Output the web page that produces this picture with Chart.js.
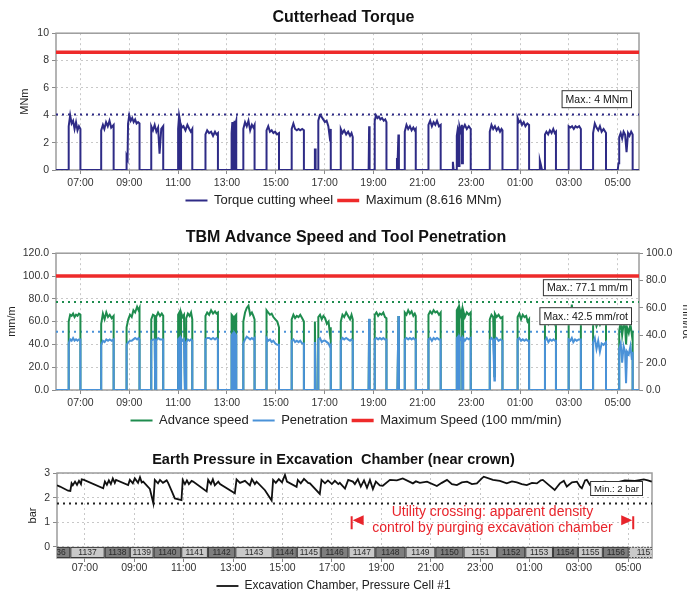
<!DOCTYPE html>
<html>
<head>
<meta charset="utf-8">
<script src="https://cdn.jsdelivr.net/npm/chart.js@4.4.1/dist/chart.umd.min.js"></script>
<style>
  html, body { margin: 0; padding: 0; background: #fff; overflow: hidden; width: 687px; height: 593px; }
  .panel { position: absolute; }
</style>
</head>
<body>
<div class="panel" style="left:0;top:0;width:687px;height:217px"><canvas id="torqueChart" width="687" height="217"></canvas></div>
<div class="panel" style="left:-8px;top:220px;width:708px;height:217px"><canvas id="speedChart" width="708" height="217"></canvas></div>
<div class="panel" style="left:-20px;top:440px;width:707px;height:162px"><canvas id="pressureChart" width="707" height="162"></canvas></div>
<script>
// time axis (hours, 25 = 01:00 next day)
const hourTicks = [7, 9, 11, 13, 15, 17, 19, 21, 23, 25, 27, 29];
const hourLabels = ['07:00', '09:00', '11:00', '13:00', '15:00', '17:00', '19:00', '21:00', '23:00', '01:00', '03:00', '05:00'];

// cutterhead torque [hour, MNm]
const torquePoints = [
  [6.00, 0],
  [6.52, 0], [6.52, 3.2], [6.58, 4.0], [6.64, 3.4], [6.70, 3.6], [6.76, 3.0], [6.82, 3.5], [6.88, 2.9], [6.94, 3.2], [7.00, 3.0], [7.00, 0],
  [7.85, 0], [7.85, 2.9], [7.92, 3.3], [7.98, 3.0], [8.05, 3.5], [8.12, 3.2], [8.19, 3.6], [8.26, 3.1], [8.36, 3.3], [8.36, 0],
  [8.89, 0], [8.89, 1.0], [8.93, 0.8], [8.95, 3.4], [9.00, 4.0], [9.06, 3.6], [9.12, 3.8], [9.18, 3.5], [9.24, 3.7], [9.30, 3.4], [9.36, 3.5], [9.42, 3.4], [9.42, 0],
  [9.90, 0], [9.90, 3.2], [9.97, 2.9], [10.04, 3.3], [10.11, 2.8], [10.18, 3.1], [10.24, 1.2], [10.31, 3.0], [10.39, 3.2], [10.39, 0],
  [11.00, 0], [11.00, 3.0], [11.04, 4.0], [11.08, 3.6], [11.08, 0], [11.12, 0], [11.12, 3.3], [11.16, 3.1], [11.22, 3.2], [11.30, 2.9], [11.38, 3.3], [11.46, 3.0], [11.52, 2.8], [11.58, 3.0], [11.58, 0],
  [12.12, 0], [12.12, 2.6], [12.19, 2.9], [12.27, 2.7], [12.35, 2.8], [12.43, 2.5], [12.51, 2.8], [12.57, 2.6], [12.63, 2.7], [12.63, 0],
  [13.19, 0], [13.19, 2.7], [13.22, 3.5], [13.24, 2.8], [13.24, 0], [13.31, 0], [13.31, 3.6], [13.34, 3.3], [13.38, 3.6], [13.38, 0],
  [13.67, 0], [13.67, 3.0], [13.74, 3.5], [13.81, 3.2], [13.88, 3.6], [13.95, 2.9], [14.02, 3.3], [14.08, 3.1], [14.13, 3.3], [14.13, 0],
  [14.62, 0], [14.62, 2.9], [14.69, 3.2], [14.76, 2.8], [14.83, 2.9], [14.90, 2.7], [14.97, 2.8], [15.05, 2.6], [15.13, 2.7], [15.13, 0],
  [15.65, 0], [15.65, 3.0], [15.72, 3.4], [15.79, 3.0], [15.86, 2.9], [15.93, 3.0], [16.00, 2.9], [16.08, 3.0], [16.15, 2.9], [16.15, 0],
  [16.60, 0], [16.60, 1.5], [16.63, 1.5], [16.63, 0], [16.74, 0], [16.74, 3.6], [16.80, 4.0], [16.87, 3.9], [16.94, 3.7], [17.01, 3.5], [17.08, 3.6], [17.15, 3.2], [17.20, 2.5], [17.25, 3.0], [17.25, 0],
  [17.66, 0], [17.66, 3.0], [17.73, 2.7], [17.80, 2.9], [17.88, 2.6], [17.96, 2.8], [18.04, 2.5], [18.10, 2.7], [18.15, 2.4], [18.15, 0],
  [18.80, 0], [18.82, 3.2], [18.84, 0],
  [19.05, 0], [19.05, 3.6], [19.10, 4.0], [19.16, 3.8], [19.22, 3.9], [19.28, 3.7], [19.35, 3.8], [19.42, 3.6], [19.48, 3.7], [19.53, 3.5], [19.53, 0],
  [19.96, 0], [19.96, 0.8], [19.99, 0.8], [20.02, 2.6], [20.04, 0],
  [20.28, 0], [20.28, 2.8], [20.35, 3.3], [20.42, 3.0], [20.49, 3.2], [20.56, 2.9], [20.63, 3.1], [20.69, 2.9], [20.73, 3.0], [20.73, 0],
  [21.25, 0], [21.25, 3.3], [21.32, 3.6], [21.39, 3.2], [21.46, 3.5], [21.53, 3.3], [21.60, 3.6], [21.68, 3.2], [21.75, 3.3], [21.75, 0],
  [22.22, 0], [22.25, 0.6], [22.28, 0],
  [22.41, 0], [22.41, 2.5], [22.45, 3.0], [22.48, 2.8], [22.48, 0.3], [22.52, 0.3], [22.52, 3.2], [22.58, 2.8], [22.62, 3.3], [22.62, 0.5], [22.66, 0.5], [22.66, 3.0], [22.74, 3.3], [22.82, 3.0], [22.90, 3.2], [22.98, 3.0], [22.98, 0],
  [23.76, 0], [23.76, 2.8], [23.83, 3.3], [23.90, 3.0], [23.97, 3.2], [24.04, 2.9], [24.11, 3.1], [24.18, 2.8], [24.24, 3.0], [24.28, 2.9], [24.28, 0],
  [24.90, 0], [24.90, 3.8], [24.96, 3.5], [25.02, 3.6], [25.08, 3.3], [25.15, 3.5], [25.22, 3.2], [25.30, 3.4], [25.37, 3.3], [25.37, 0],
  [25.78, 0], [25.81, 0.7], [25.85, 0.4], [25.90, 0],
  [26.02, 0], [26.02, 2.6], [26.08, 2.8], [26.15, 2.6], [26.22, 2.9], [26.29, 2.7], [26.36, 3.0], [26.42, 2.7], [26.47, 2.8], [26.47, 0],
  [26.99, 0], [26.99, 3.2], [27.06, 3.1], [27.13, 3.2], [27.20, 3.0], [27.27, 3.2], [27.34, 3.1], [27.42, 3.2], [27.49, 3.0], [27.49, 0],
  [27.99, 0], [27.99, 2.7], [28.06, 3.4], [28.13, 3.1], [28.20, 2.9], [28.27, 3.2], [28.34, 2.8], [28.42, 3.0], [28.52, 2.7], [28.52, 0],
  [29.00, 0], [29.03, 0.5], [29.06, 0.5], [29.06, 2.4], [29.12, 2.7], [29.18, 2.3], [29.24, 2.8], [29.30, 2.6], [29.36, 1.3], [29.42, 2.7], [29.48, 2.5], [29.55, 2.8], [29.61, 2.6], [29.61, 0],
  [29.87, 0]
];
const torqueLimit = 8.616;
const torqueMaxSeen = 4.05;

// [hour, advance speed mm/m, penetration mm/rot]
const speedRows = [
  [6.00, 0, 0],
  [6.52, 0, 0], [6.52, 60, 34], [6.58, 66, 37], [6.64, 65, 36], [6.70, 67, 38], [6.76, 64, 36], [6.82, 66, 37], [6.88, 65, 36], [6.94, 67, 37], [7.00, 66, 37], [7.00, 0, 0],
  [7.85, 0, 0], [7.85, 58, 33], [7.92, 67, 36], [7.99, 62, 35], [8.06, 68, 37], [8.13, 64, 36], [8.20, 66, 37], [8.28, 63, 36], [8.36, 65, 37], [8.36, 0, 0],
  [8.89, 0, 0], [8.89, 55, 33], [8.96, 62, 35], [9.03, 66, 36], [9.10, 64, 36], [9.17, 70, 37], [9.24, 68, 38], [9.32, 73, 37], [9.38, 70, 38], [9.42, 72, 37], [9.42, 0, 0],
  [9.90, 0, 0], [9.90, 62, 36], [9.97, 66, 37], [10.04, 65, 37], [10.06, 0, 0], [10.10, 0, 0], [10.10, 64, 36], [10.18, 68, 38], [10.26, 65, 37], [10.33, 67, 37], [10.39, 65, 37], [10.39, 0, 0],
  [11.00, 0, 0], [11.00, 66, 37], [11.05, 68, 38], [11.08, 0, 0], [11.12, 0, 0], [11.12, 68, 38], [11.18, 64, 36], [11.24, 66, 37], [11.28, 0, 0], [11.33, 0, 0], [11.33, 63, 35], [11.40, 67, 37], [11.47, 65, 36], [11.53, 68, 37], [11.58, 62, 36], [11.58, 0, 0],
  [12.12, 0, 0], [12.12, 65, 37], [12.19, 68, 38], [12.27, 66, 38], [12.35, 70, 37], [12.43, 67, 38], [12.51, 69, 37], [12.57, 67, 38], [12.63, 68, 37], [12.63, 0, 0],
  [13.19, 0, 0], [13.19, 66, 40], [13.23, 65, 41], [13.24, 0, 0], [13.30, 0, 0], [13.30, 64, 42], [13.38, 66, 40], [13.38, 0, 0],
  [13.67, 0, 0], [13.67, 60, 34], [13.74, 68, 37], [13.81, 72, 39], [13.88, 74, 38], [13.95, 66, 37], [14.02, 68, 38], [14.08, 65, 37], [14.13, 62, 38], [14.13, 0, 0],
  [14.62, 0, 0], [14.62, 70, 38], [14.69, 68, 36], [14.76, 66, 37], [14.83, 67, 35], [14.90, 64, 36], [14.98, 62, 34], [15.06, 60, 33], [15.13, 55, 33], [15.13, 0, 0],
  [15.65, 0, 0], [15.65, 62, 36], [15.72, 66, 37], [15.79, 63, 35], [15.86, 65, 36], [15.93, 64, 35], [16.00, 66, 36], [16.08, 63, 34], [16.15, 60, 34], [16.15, 0, 0],
  [16.60, 0, 0], [16.60, 60, 35], [16.63, 0, 0], [16.74, 0, 0], [16.74, 64, 37], [16.81, 66, 38], [16.88, 62, 35], [16.95, 65, 36], [17.02, 63, 36], [17.09, 58, 35], [17.16, 60, 34], [17.21, 50, 32], [17.25, 55, 33], [17.25, 0, 0],
  [17.66, 0, 0], [17.66, 60, 36], [17.73, 66, 38], [17.80, 64, 37], [17.88, 68, 38], [17.96, 65, 37], [18.04, 62, 36], [18.10, 66, 37], [18.15, 62, 36], [18.15, 0, 0],
  [18.80, 0, 0], [18.82, 62, 52], [18.84, 0, 0],
  [19.05, 0, 0], [19.05, 66, 37], [19.12, 68, 38], [19.19, 65, 37], [19.26, 67, 38], [19.33, 66, 37], [19.40, 68, 38], [19.47, 64, 37], [19.53, 63, 37], [19.53, 0, 0],
  [19.98, 0, 0], [20.02, 65, 54], [20.04, 0, 0],
  [20.28, 0, 0], [20.28, 68, 37], [20.35, 66, 38], [20.42, 70, 37], [20.49, 67, 38], [20.56, 69, 37], [20.63, 65, 38], [20.69, 67, 37], [20.73, 65, 37], [20.73, 0, 0],
  [21.25, 0, 0], [21.25, 66, 37], [21.32, 69, 38], [21.39, 67, 36], [21.46, 70, 38], [21.53, 68, 37], [21.60, 69, 38], [21.68, 66, 37], [21.75, 68, 37], [21.75, 0, 0],
  [22.41, 0, 0], [22.41, 70, 38], [22.46, 72, 39], [22.49, 0, 0], [22.52, 0, 0], [22.52, 72, 39], [22.58, 66, 37], [22.62, 70, 38], [22.64, 0, 0], [22.67, 0, 0], [22.67, 70, 38], [22.74, 64, 36], [22.82, 68, 38], [22.90, 66, 37], [22.98, 68, 38], [22.98, 0, 0],
  [23.76, 0, 0], [23.76, 62, 36], [23.83, 66, 38], [23.90, 64, 37], [23.95, 12, 7], [23.97, 67, 37], [24.04, 64, 38], [24.12, 66, 36], [24.20, 63, 37], [24.28, 64, 36], [24.28, 0, 0],
  [24.90, 0, 0], [24.90, 64, 37], [24.97, 67, 38], [25.04, 62, 36], [25.11, 66, 37], [25.18, 64, 36], [25.25, 65, 37], [25.31, 60, 36], [25.37, 62, 36], [25.37, 0, 0],
  [26.02, 0, 0], [26.02, 60, 36], [26.09, 62, 38], [26.16, 58, 35], [26.23, 61, 37], [26.30, 59, 36], [26.37, 62, 37], [26.43, 58, 36], [26.47, 60, 36], [26.47, 0, 0],
  [26.99, 0, 0], [26.99, 62, 37], [27.06, 60, 36], [27.12, 75, 38], [27.18, 62, 35], [27.25, 64, 37], [27.32, 61, 36], [27.40, 63, 37], [27.49, 62, 37], [27.49, 0, 0],
  [27.99, 0, 0], [27.99, 58, 35], [28.06, 62, 38], [28.13, 56, 30], [28.20, 60, 36], [28.27, 57, 28], [28.34, 60, 34], [28.42, 58, 33], [28.52, 60, 35], [28.52, 0, 0],
  [29.06, 0, 0], [29.06, 52, 30], [29.12, 60, 34], [29.18, 48, 20], [29.24, 58, 32], [29.30, 56, 28], [29.34, 40, 5], [29.38, 55, 28], [29.45, 50, 26], [29.52, 58, 32], [29.58, 48, 22], [29.61, 52, 28], [29.61, 0, 0],
  [29.87, 0, 0]
];
const speedLimit = 100;
const advanceMaxSeen = 77.1;
const penetrationMaxSeen = 42.5;

// earth pressure, cell #1 [hour, bar]
const pressurePoints = [
  [5.87, 2.50], [5.99, 2.45], [6.32, 2.28], [6.41, 2.27],
  [6.46, 2.58], [6.51, 2.50], [6.60, 2.65], [6.68, 2.52], [6.76, 2.68], [6.84, 2.55], [6.87, 2.74],
  [6.96, 2.72], [7.74, 2.38],
  [7.81, 2.65], [7.89, 2.52], [7.97, 2.70], [8.05, 2.55], [8.13, 2.78], [8.21, 2.60],
  [8.26, 2.72], [8.75, 2.51],
  [8.82, 2.72], [8.94, 2.58], [9.02, 2.78], [9.15, 2.60], [9.23, 2.83], [9.30, 2.62],
  [9.36, 2.65], [9.63, 2.35], [9.77, 1.77],
  [9.83, 2.72], [9.96, 2.58], [10.04, 2.72], [10.16, 2.60], [10.31, 2.70],
  [10.37, 2.60], [10.52, 2.25], [10.64, 1.97], [10.91, 1.90],
  [10.96, 2.72], [11.05, 2.55], [11.13, 2.70], [11.21, 2.55], [11.32, 2.68],
  [11.38, 2.65], [11.93, 2.25],
  [11.99, 2.72], [12.10, 2.55], [12.18, 2.74], [12.26, 2.50], [12.40, 2.65],
  [12.47, 2.55], [13.07, 2.18],
  [13.14, 2.74], [13.28, 2.60], [13.48, 2.68], [13.68, 2.50], [13.76, 2.75], [13.88, 2.55],
  [13.95, 2.65], [14.29, 2.30], [14.56, 1.88],
  [14.62, 2.72], [14.73, 2.60], [14.85, 2.75], [14.98, 2.62], [15.10, 2.92],
  [15.18, 2.65], [15.57, 2.44],
  [15.62, 2.72], [15.74, 2.58], [15.87, 2.76], [16.04, 2.60],
  [16.11, 2.58], [16.51, 2.15],
  [16.58, 2.72], [16.72, 2.58], [16.84, 2.70], [17.00, 2.55], [17.12, 2.68], [17.26, 2.55],
  [17.32, 2.60], [17.53, 2.37], [17.66, 2.72], [17.85, 2.65],
  [17.93, 2.55], [18.05, 2.75], [18.17, 2.45], [18.30, 2.70], [18.42, 2.40], [18.54, 2.72], [18.66, 2.35], [18.78, 2.65], [18.94, 2.50], [19.06, 2.48],
  [19.35, 2.72], [19.63, 2.70], [19.87, 2.78], [20.28, 2.58], [20.40, 2.66], [20.56, 2.60], [20.85, 2.65], [21.25, 2.47],
  [21.45, 2.60], [21.66, 2.72], [21.86, 2.55], [22.06, 2.51], [22.26, 2.62], [22.47, 2.65], [22.67, 2.55], [22.87, 2.58],
  [23.07, 2.78], [23.15, 2.85], [23.52, 2.72], [23.80, 2.68], [24.08, 2.58], [24.29, 2.66], [24.49, 2.62], [24.69, 2.55],
  [24.89, 2.51], [25.10, 2.60], [25.30, 2.58], [25.46, 2.70], [25.54, 2.72], [25.74, 2.55], [26.02, 2.31], [26.23, 2.58],
  [26.39, 2.68], [26.51, 2.45], [26.72, 2.62], [26.92, 2.65], [27.04, 2.45], [27.12, 2.38], [27.25, 2.70], [27.32, 2.72],
  [27.45, 2.51], [27.65, 2.60], [28.05, 2.65], [28.46, 2.60], [28.86, 2.70], [29.27, 2.68], [29.63, 2.74], [29.79, 2.70], [29.95, 2.65]
];
const pressureMinLine = 1.76;

// ring numbers and their boundaries (hours)
const ringNumbers = [1136, 1137, 1138, 1139, 1140, 1141, 1142, 1143, 1144, 1145, 1146, 1147, 1148, 1149, 1150, 1151, 1152, 1153, 1154, 1155, 1156, 1157];
const ringBounds = [5.30, 6.41, 7.80, 8.82, 9.78, 10.90, 11.98, 13.09, 14.60, 15.58, 16.55, 17.67, 18.76, 19.98, 21.19, 22.33, 23.69, 24.83, 25.95, 26.96, 27.97, 29.02, 30.40];
const crossingStart = 17.8;
const crossingEnd = 29.2;

const FONT = "'Liberation Sans', Arial, Helvetica, sans-serif";
Chart.defaults.font.family = FONT;
Chart.defaults.color = '#222';
Chart.defaults.animation = false;
Chart.defaults.events = [];

const xy = (rows, col) => rows.map(r => ({ x: r[0], y: r[col] }));
const flat = (x0, x1, v) => [{ x: x0, y: v }, { x: x1, y: v }];

const gridOpts = { color: '#c8c8c8', lineWidth: 1, tickLength: 4, tickColor: '#8a8a8a', tickBorderDash: [] };
const borderOpts = { display: false, dash: [2, 3] };

function hourAxis(min, max, pad, h) {
  return {
    type: 'linear', min, max,
    afterBuildTicks: s => { s.ticks = hourTicks.map(v => ({ value: v })); },
    afterFit: s => { s.height = h; },
    ticks: { callback: v => hourLabels[hourTicks.indexOf(v)], font: { size: 10.5 }, color: '#333', padding: pad, maxRotation: 0, autoSkip: false },
    grid: gridOpts,
    border: borderOpts
  };
}

// empty right-hand axis that only reserves space, so title and legend stay centred on the page
function spacerAxis(w) {
  return {
    position: 'right', display: true,
    afterFit: s => { s.width = w; },
    ticks: { display: false },
    grid: { display: false },
    border: { display: false }
  };
}

function legendOpts(size) {
  return {
    position: 'bottom',
    labels: {
      usePointStyle: true, pointStyle: 'line', pointStyleWidth: 22,
      font: { size }, color: '#222', padding: 4,
      filter: (item, data) => !data.datasets[item.datasetIndex].hideLegend,
      sort: (a, b) => a.datasetIndex - b.datasetIndex
    }
  };
}

const framePlugin = {
  id: 'frame',
  beforeDatasetsDraw(chart) {
    const { ctx, chartArea: a } = chart;
    ctx.save();
    ctx.strokeStyle = '#9c9c9c';
    ctx.lineWidth = 1.5;
    ctx.strokeRect(a.left, a.top, a.right - a.left, a.bottom - a.top);
    ctx.restore();
  }
};

function noteBox(ctx, text, right, top, h, size) {
  ctx.save();
  ctx.font = size + 'px ' + FONT;
  const w = ctx.measureText(text).width + 8;
  ctx.fillStyle = '#fff';
  ctx.fillRect(right - w, top, w, h);
  ctx.strokeStyle = '#333';
  ctx.lineWidth = 1;
  ctx.strokeRect(right - w + 0.5, top + 0.5, w - 1, h - 1);
  ctx.fillStyle = '#111';
  ctx.textAlign = 'center';
  ctx.textBaseline = 'middle';
  ctx.fillText(text, right - w / 2, top + h / 2 + 0.5);
  ctx.restore();
}

// Cutterhead torque
new Chart(document.getElementById('torqueChart'), {
  type: 'line',
  data: {
    datasets: [
      { label: 'Torque cutting wheel', data: xy(torquePoints, 1), borderColor: '#2e2b86', borderWidth: 2, order: 2 },
      { label: 'Maximum (8.616 MNm)', data: flat(6.0, 29.87, torqueLimit), borderColor: '#ee2a2a', borderWidth: 3.5, order: 1 },
      { label: 'max', data: flat(6.0, 29.87, torqueMaxSeen), borderColor: '#2e2b86', borderWidth: 2, borderDash: [2, 4], hideLegend: true, order: 3 }
    ]
  },
  options: {
    responsive: false,
    layout: { padding: 0 },
    elements: { point: { radius: 0 }, line: { tension: 0 } },
    plugins: {
      title: { display: true, text: 'Cutterhead Torque', font: { size: 16, weight: 'bold' }, color: '#111', padding: { top: 8, bottom: 6 } },
      legend: legendOpts(13),
      tooltip: { enabled: false }
    },
    scales: {
      x: hourAxis(6.0, 29.87, 3, 20),
      y: {
        min: 0, max: 10,
        afterFit: s => { s.width = 56; },
        ticks: { stepSize: 2, font: { size: 10.5 }, color: '#333', padding: 3 },
        grid: gridOpts, border: borderOpts,
        title: { display: true, text: 'MNm', font: { size: 11 }, color: '#222', padding: { top: 18, bottom: 0 } }
      },
      pad: spacerAxis(48)
    }
  },
  plugins: [framePlugin, {
    id: 'notes',
    afterDatasetsDraw(chart) {
      const a = chart.chartArea;
      noteBox(chart.ctx, 'Max.: 4 MNm', a.right - 7, a.top + 57, 18, 10.5);
    }
  }]
});

// Advance speed and penetration
new Chart(document.getElementById('speedChart'), {
  type: 'line',
  data: {
    datasets: [
      { label: 'Advance speed', data: xy(speedRows, 1), borderColor: '#1e8c4e', borderWidth: 2, yAxisID: 'y', order: 3 },
      { label: 'Penetration', data: xy(speedRows, 2), borderColor: '#4a92d8', borderWidth: 2, yAxisID: 'y1', order: 2 },
      { label: 'Maximum Speed (100 mm/min)', data: flat(6.0, 29.87, speedLimit), borderColor: '#ee2a2a', borderWidth: 3.5, yAxisID: 'y', order: 1 },
      { label: 'adv max', data: flat(6.0, 29.87, advanceMaxSeen), borderColor: '#1e8c4e', borderWidth: 2, borderDash: [2, 4], yAxisID: 'y', hideLegend: true, order: 4 },
      { label: 'pen max', data: flat(6.0, 29.87, penetrationMaxSeen), borderColor: '#4a92d8', borderWidth: 2, borderDash: [2, 4], yAxisID: 'y1', hideLegend: true, order: 4 }
    ]
  },
  options: {
    responsive: false,
    layout: { padding: 0 },
    elements: { point: { radius: 0 }, line: { tension: 0 } },
    plugins: {
      title: { display: true, text: 'TBM Advance Speed and Tool Penetration', font: { size: 16, weight: 'bold' }, color: '#111', padding: { top: 8, bottom: 6 } },
      legend: legendOpts(13),
      tooltip: { enabled: false }
    },
    scales: {
      x: hourAxis(6.0, 29.87, 3, 20),
      y: {
        position: 'left', min: 0, max: 120,
        afterFit: s => { s.width = 64; },
        ticks: { stepSize: 20, callback: v => v.toFixed(1), font: { size: 10.5 }, color: '#333', padding: 3 },
        grid: gridOpts, border: borderOpts,
        title: { display: true, text: 'mm/m', font: { size: 11 }, color: '#222', padding: { top: 13, bottom: 0 } }
      },
      y1: {
        position: 'right', min: 0, max: 100,
        afterFit: s => { s.width = 61; },
        ticks: { stepSize: 20, callback: v => v.toFixed(1), font: { size: 10.5 }, color: '#333', padding: 3 },
        grid: { drawOnChartArea: false, tickLength: 4, tickColor: '#8a8a8a', tickBorderDash: [] },
        border: { display: false },
        title: { display: true, text: 'mm/rot', font: { size: 11 }, color: '#222', padding: { top: 7, bottom: 0 } }
      }
    }
  },
  plugins: [framePlugin, {
    id: 'notes',
    afterDatasetsDraw(chart) {
      const a = chart.chartArea;
      noteBox(chart.ctx, 'Max.: 77.1 mm/m', a.right - 7, a.top + 26, 17, 10.5);
      noteBox(chart.ctx, 'Max.: 42.5 mm/rot', a.right - 7, a.top + 54, 18, 10.5);
    }
  }]
});

// Earth pressure
new Chart(document.getElementById('pressureChart'), {
  type: 'line',
  data: {
    datasets: [
      { label: 'Excavation Chamber, Pressure Cell #1', data: xy(pressurePoints, 1), borderColor: '#111', borderWidth: 1.8, order: 1 },
      { label: 'min', data: flat(5.87, 29.96, pressureMinLine), borderColor: '#222', borderWidth: 2, borderDash: [2, 4], hideLegend: true, order: 2 }
    ]
  },
  options: {
    responsive: false,
    layout: { padding: 0 },
    elements: { point: { radius: 0 }, line: { tension: 0 } },
    plugins: {
      title: { display: true, text: 'Earth Pressure in Excavation  Chamber (near crown)', font: { size: 14.5, weight: 'bold' }, color: '#111', padding: { top: 11, bottom: 4.6 } },
      legend: legendOpts(12),
      tooltip: { enabled: false }
    },
    scales: {
      x: hourAxis(5.87, 29.96, 0, 18),
      y: {
        min: -0.45, max: 3,
        afterBuildTicks: s => { s.ticks = [0, 1, 2, 3].map(v => ({ value: v })); },
        afterFit: s => { s.width = 77; },
        ticks: { font: { size: 10.5 }, color: '#333', padding: 3 },
        grid: gridOpts, border: borderOpts,
        title: { display: true, text: 'bar', font: { size: 11 }, color: '#222', padding: { top: 46, bottom: 0 } }
      },
      pad: spacerAxis(35)
    }
  },
  plugins: [framePlugin, {
    id: 'rings',
    afterDatasetsDraw(chart) {
      const { ctx, chartArea: a } = chart;
      const xs = chart.scales.x, ys = chart.scales.y;
      const top = ys.getPixelForValue(0), bottom = ys.getPixelForValue(-0.45);
      ctx.save();
      ctx.beginPath();
      ctx.rect(a.left, top - 1, a.right - a.left, bottom - top + 2);
      ctx.clip();
      ringNumbers.forEach((n, i) => {
        const x0 = xs.getPixelForValue(ringBounds[i]);
        const x1 = xs.getPixelForValue(ringBounds[i + 1]);
        ctx.fillStyle = i % 2 === 0 ? '#7e7e7e' : '#c9c9c9';
        ctx.fillRect(x0, top, x1 - x0, bottom - top);
        ctx.strokeStyle = '#3a3a3a';
        ctx.lineWidth = 1;
        ctx.setLineDash(n === 1157 ? [1.5, 1.5] : []);
        ctx.strokeRect(x0 + 0.5, top + 0.5, x1 - x0 - 1, bottom - top - 1);
        ctx.setLineDash([]);
        ctx.fillStyle = '#2a2a2a';
        ctx.font = '8.5px ' + FONT;
        ctx.textAlign = 'center';
        ctx.textBaseline = 'middle';
        ctx.fillText(String(n), (x0 + x1) / 2, (top + bottom) / 2 + 0.5);
      });
      ctx.restore();

      // utility crossing annotation
      const red = '#e8242b';
      const xl = xs.getPixelForValue(crossingStart), xr = xs.getPixelForValue(crossingEnd);
      const y1 = ys.getPixelForValue(1);
      ctx.save();
      ctx.strokeStyle = red;
      ctx.fillStyle = red;
      ctx.lineWidth = 2;
      ctx.beginPath();
      ctx.moveTo(xl, y1 - 6); ctx.lineTo(xl, y1 + 7);
      ctx.moveTo(xr, y1 - 6); ctx.lineTo(xr, y1 + 7);
      ctx.stroke();
      ctx.beginPath();
      ctx.moveTo(xl + 1, y1 - 2); ctx.lineTo(xl + 12, y1 - 7); ctx.lineTo(xl + 12, y1 + 3); ctx.closePath();
      ctx.moveTo(xr - 1, y1 - 2); ctx.lineTo(xr - 12, y1 - 7); ctx.lineTo(xr - 12, y1 + 3); ctx.closePath();
      ctx.fill();
      ctx.font = '14px ' + FONT;
      ctx.textAlign = 'center';
      ctx.textBaseline = 'middle';
      const xm = (xl + xr) / 2;
      ctx.fillText('Utility crossing: apparent density', xm, y1 - 10);
      ctx.fillText('control by purging excavation chamber', xm, y1 + 6);
      ctx.restore();

      noteBox(ctx, 'Min.: 2 bar', a.right - 9, a.top + 8, 15, 9.5);
    }
  }]
});
</script>
</body>
</html>
